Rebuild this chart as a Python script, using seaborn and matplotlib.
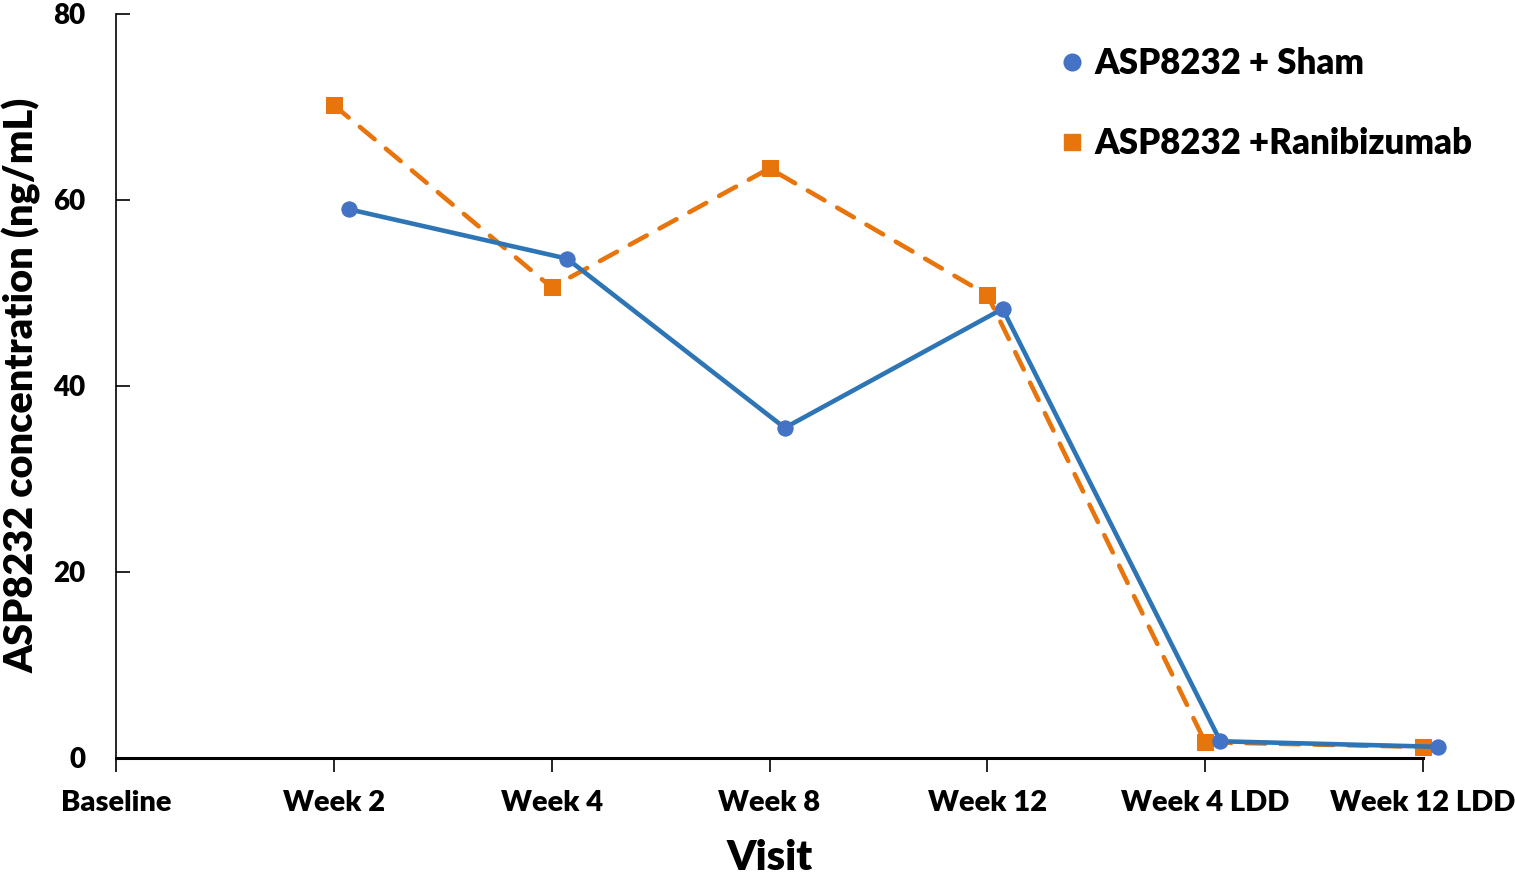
import matplotlib
matplotlib.use("Agg")
import matplotlib.pyplot as plt
from matplotlib.lines import Line2D
import seaborn as sns
import numpy as np
import pandas as pd

visits = ["Baseline", "Week 2", "Week 4", "Week 8", "Week 12", "Week 4 LDD", "Week 12 LDD"]
sham = [np.nan, 59.0, 53.7, 35.5, 48.3, 1.8, 1.2]
ranibizumab = [np.nan, 70.2, 50.6, 63.4, 49.8, 1.7, 1.2]
series_names = ["ASP8232 + Sham", "ASP8232 +Ranibizumab"]
y_ticks = [0, 20, 40, 60, 80]

sns.set_theme(style="ticks")
plt.rcParams['font.family'] = ['Lato', 'DejaVu Sans']
plt.rcParams['text.color'] = 'black'
plt.rcParams['axes.labelcolor'] = 'black'
FW = "heavy"

W, H = 1515, 874
fig = plt.figure(figsize=(W / 100, H / 100), dpi=100)
ax = fig.add_axes([116 / W, (H - 758) / H, (1423 - 116) / W, (758 - 14) / H])

idx = np.arange(len(visits))
df_s = pd.DataFrame({"x": idx + 0.07, "y": sham})
df_r = pd.DataFrame({"x": idx.astype(float), "y": ranibizumab})

orange = "#E8740C"
blue_line = "#2E75B6"
blue_mk = "#4472C4"

sns.lineplot(data=df_r, x="x", y="y", ax=ax, color=orange, linewidth=3.3,
             linestyle=(0, (4.2, 3.2)), dash_capstyle="round", marker="s", markersize=11,
             markerfacecolor=orange, markeredgecolor=orange, clip_on=False)
sns.lineplot(data=df_s, x="x", y="y", ax=ax, color=blue_line, linewidth=3.3,
             marker="o", markersize=11, markerfacecolor=blue_mk,
             markeredgecolor=blue_mk, clip_on=False)

ax.set_xlim(0, 6)
ax.set_ylim(0, 80)
ax.set_xticks(idx)
ax.set_xticklabels(visits, fontsize=21, fontweight=FW)
ax.set_yticks(y_ticks)
ax.set_yticklabels([str(v) for v in y_ticks], fontsize=20, fontweight=FW)
ax.tick_params(axis="x", direction="out", length=10, width=1.2, pad=13, colors="black")
ax.tick_params(axis="y", direction="in", length=10, width=1.2, pad=22, colors="black")
for s in ["top", "right"]:
    ax.spines[s].set_visible(False)
ax.spines["left"].set_linewidth(1.2)
ax.spines["bottom"].set_linewidth(2.2)
ax.spines["left"].set_color("black")
ax.spines["bottom"].set_color("black")

ax.set_xlabel("Visit", fontsize=30, fontweight=FW, color="black")
ax.set_ylabel("ASP8232 concentration (ng/mL)", fontsize=28.5, fontweight=FW, color="black")
ax.yaxis.set_label_coords((22 - 116) / 1307, (758 - 385) / 744)
ax.xaxis.set_label_coords(0.5, (758 - 858) / 744)
ax.xaxis.label.set_va("center")
ax.yaxis.label.set_va("center")

handles = [
    Line2D([], [], linestyle="none", marker="o", markersize=12,
           markerfacecolor=blue_mk, markeredgecolor=blue_mk),
    Line2D([], [], linestyle="none", marker="s", markersize=12,
           markerfacecolor=orange, markeredgecolor=orange),
]
leg = fig.legend(handles, series_names, loc="upper left",
                 bbox_to_anchor=(1023 / W, (H - 16) / H), frameon=False,
                 prop={"size": 25, "weight": FW}, labelspacing=1.35,
                 handletextpad=0.15, handlelength=1.0)
for t in leg.get_texts():
    t.set_color("black")

fig.savefig("out.png", dpi=100)
